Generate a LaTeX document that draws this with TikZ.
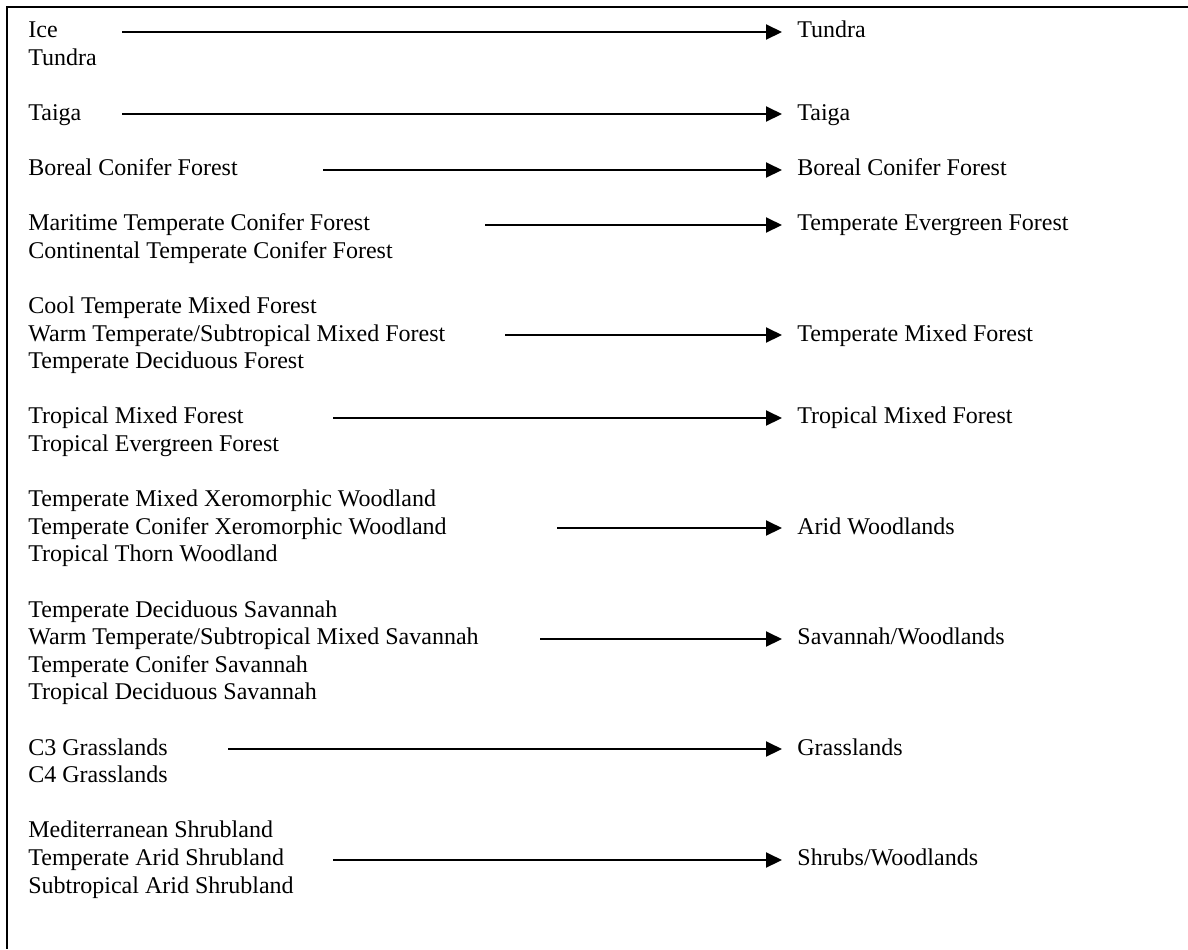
\documentclass[tikz,border=0pt]{standalone}
\usepackage{fontspec}
\setmainfont{Liberation Serif}
\usetikzlibrary{arrows.meta}
\begin{document}
\begin{tikzpicture}[x=0.5pt,y=-0.5pt,
  lbl/.style={anchor=base west,inner sep=0pt,font=\fontsize{12pt}{13.8pt}\selectfont},
  arr/.style={line width=1pt,-{Triangle[length=8pt,width=7.5pt]},shorten >=7.5pt},
  frame/.style={line width=1pt}]
\useasboundingbox (0,0) rectangle (1188,949);
\draw[frame] (1188,7) -- (7,7) -- (7,949);
% left column
\node[lbl] (l0)  at (28,{37.5+27.6*0})  {Ice};
\node[lbl] (l1)  at (28,{37.5+27.6*1})  {Tundra};
\node[lbl] (l3)  at (28,{37.5+27.6*3})  {Taiga};
\node[lbl] (l5)  at (28,{37.5+27.6*5})  {Boreal Conifer Forest};
\node[lbl] (l7)  at (28,{37.5+27.6*7})  {Maritime Temperate Conifer Forest};
\node[lbl] (l8)  at (28,{37.5+27.6*8})  {Continental Temperate Conifer Forest};
\node[lbl] (l10) at (28,{37.5+27.6*10}) {Cool Temperate Mixed Forest};
\node[lbl] (l11) at (28,{37.5+27.6*11}) {Warm Temperate/Subtropical Mixed Forest};
\node[lbl] (l12) at (28,{37.5+27.6*12}) {Temperate Deciduous Forest};
\node[lbl] (l14) at (28,{37.5+27.6*14}) {Tropical Mixed Forest};
\node[lbl] (l15) at (28,{37.5+27.6*15}) {Tropical Evergreen Forest};
\node[lbl] (l17) at (28,{37.5+27.6*17}) {Temperate Mixed Xeromorphic Woodland};
\node[lbl] (l18) at (28,{37.5+27.6*18}) {Temperate Conifer Xeromorphic Woodland};
\node[lbl] (l19) at (28,{37.5+27.6*19}) {Tropical Thorn Woodland};
\node[lbl] (l21) at (28,{37.5+27.6*21}) {Temperate Deciduous Savannah};
\node[lbl] (l22) at (28,{37.5+27.6*22}) {Warm Temperate/Subtropical Mixed Savannah};
\node[lbl] (l23) at (28,{37.5+27.6*23}) {Temperate Conifer Savannah};
\node[lbl] (l24) at (28,{37.5+27.6*24}) {Tropical Deciduous Savannah};
\node[lbl] (l26) at (28,{37.5+27.6*26}) {C3 Grasslands};
\node[lbl] (l27) at (28,{37.5+27.6*27}) {C4 Grasslands};
\node[lbl] (l29) at (28,{37.5+27.6*29}) {Mediterranean Shrubland};
\node[lbl] (l30) at (28,{37.5+27.6*30}) {Temperate Arid Shrubland};
\node[lbl] (l31) at (28,{37.5+27.6*31}) {Subtropical Arid Shrubland};
% right column
\node[lbl] (r0)  at (797,{37.5+27.6*0})  {Tundra};
\node[lbl] (r3)  at (797,{37.5+27.6*3})  {Taiga};
\node[lbl] (r5)  at (797,{37.5+27.6*5})  {Boreal Conifer Forest};
\node[lbl] (r7)  at (797,{37.5+27.6*7})  {Temperate Evergreen Forest};
\node[lbl] (r11) at (797,{37.5+27.6*11}) {Temperate Mixed Forest};
\node[lbl] (r14) at (797,{37.5+27.6*14}) {Tropical Mixed Forest};
\node[lbl] (r18) at (797,{37.5+27.6*18}) {Arid Woodlands};
\node[lbl] (r22) at (797,{37.5+27.6*22}) {Savannah/Woodlands};
\node[lbl] (r26) at (797,{37.5+27.6*26}) {Grasslands};
\node[lbl] (r30) at (797,{37.5+27.6*30}) {Shrubs/Woodlands};
% arrow starts
\coordinate (s0)  at (122,{round(31.5+27.6*0)});
\coordinate (s3)  at (122,{round(31.5+27.6*3)});
\coordinate (s5)  at (323,{round(31.5+27.6*5)});
\coordinate (s7)  at (485,{round(31.5+27.6*7)});
\coordinate (s11) at (505,{round(31.5+27.6*11)});
\coordinate (s14) at (333,{round(31.5+27.6*14)});
\coordinate (s18) at (557,{round(31.5+27.6*18)});
\coordinate (s22) at (540,{round(31.5+27.6*22)});
\coordinate (s26) at (228,{round(31.5+27.6*26)});
\coordinate (s30) at (333,{round(31.5+27.6*30)});
\foreach \i in {0,3,5,7,11,14,18,22,26,30}
  \draw[arr] (s\i) -- (s\i -| r\i.west);
\end{tikzpicture}
\end{document}
